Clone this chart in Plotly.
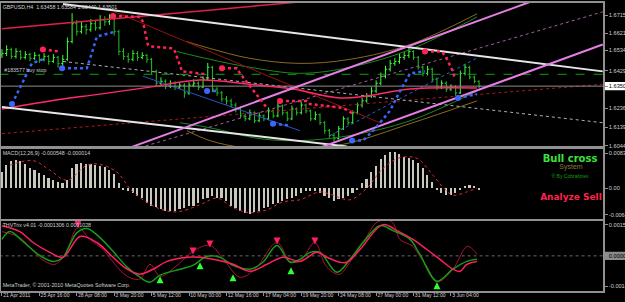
import plotly.graph_objects as go
from plotly.subplots import make_subplots

# ---------------- data ----------------
# x axis = H4 bar index; one drawn bar per 2 H4 bars
bar_x = list(range(0, 206, 2))
opens = [1.6510,1.6518,1.6538,1.6503,1.6528,1.6498,1.6513,1.6493,1.6508,1.6488,
 1.6503,1.6477,1.6498,1.6467,1.6488,1.6579,1.6671,1.6630,1.6655,1.6640,
 1.6671,1.6650,1.6691,1.6681,1.6701,1.6630,1.6528,1.6503,1.6488,1.6518,
 1.6498,1.6508,1.6488,1.6426,1.6365,1.6375,1.6350,1.6365,1.6345,1.6355,
 1.6315,1.6355,1.6365,1.6345,1.6386,1.6447,1.6335,1.6315,1.6284,1.6274,
 1.6253,1.6233,1.6197,1.6182,1.6213,1.6172,1.6197,1.6182,1.6223,1.6197,
 1.6248,1.6213,1.6182,1.6233,1.6213,1.6253,1.6223,1.6182,1.6203,1.6162,
 1.6121,1.6096,1.6080,1.6131,1.6182,1.6162,1.6213,1.6253,1.6274,1.6299,
 1.6325,1.6365,1.6401,1.6437,1.6467,1.6477,1.6498,1.6508,1.6528,1.6498,
 1.6447,1.6416,1.6437,1.6386,1.6345,1.6365,1.6335,1.6345,1.6315,1.6416,
 1.6447,1.6396,1.6375]
closes = [1.6518,1.6538,1.6503,1.6528,1.6498,1.6513,1.6493,1.6508,1.6488,1.6503,
 1.6477,1.6498,1.6467,1.6488,1.6579,1.6671,1.6630,1.6655,1.6640,1.6671,
 1.6650,1.6691,1.6681,1.6701,1.6630,1.6528,1.6503,1.6488,1.6518,1.6498,
 1.6508,1.6488,1.6426,1.6365,1.6375,1.6350,1.6365,1.6345,1.6355,1.6315,
 1.6355,1.6365,1.6345,1.6386,1.6447,1.6335,1.6315,1.6284,1.6274,1.6253,
 1.6233,1.6197,1.6182,1.6213,1.6172,1.6197,1.6182,1.6223,1.6197,1.6248,
 1.6213,1.6182,1.6233,1.6213,1.6253,1.6223,1.6182,1.6203,1.6162,1.6121,
 1.6096,1.6080,1.6131,1.6182,1.6162,1.6213,1.6253,1.6274,1.6299,1.6325,
 1.6365,1.6401,1.6437,1.6467,1.6477,1.6498,1.6508,1.6528,1.6498,1.6447,
 1.6416,1.6437,1.6386,1.6345,1.6365,1.6335,1.6345,1.6315,1.6416,1.6447,
 1.6396,1.6375,1.6350]
highs = [1.6540,1.6560,1.6548,1.6545,1.6535,1.6530,1.6522,1.6525,1.6515,1.6520,
 1.6510,1.6515,1.6505,1.6510,1.6600,1.6725,1.6690,1.6680,1.6670,1.6695,
 1.6685,1.6715,1.6710,1.6720,1.6705,1.6640,1.6545,1.6520,1.6535,1.6530,
 1.6525,1.6515,1.6495,1.6435,1.6395,1.6385,1.6380,1.6375,1.6370,1.6365,
 1.6370,1.6385,1.6375,1.6400,1.6470,1.6455,1.6345,1.6325,1.6300,1.6285,
 1.6265,1.6245,1.6210,1.6230,1.6220,1.6215,1.6205,1.6240,1.6230,1.6265,
 1.6255,1.6220,1.6250,1.6240,1.6270,1.6260,1.6230,1.6220,1.6210,1.6170,
 1.6130,1.6110,1.6145,1.6195,1.6190,1.6225,1.6265,1.6290,1.6315,1.6345,
 1.6380,1.6420,1.6455,1.6485,1.6495,1.6515,1.6525,1.6545,1.6535,1.6505,
 1.6455,1.6455,1.6445,1.6395,1.6380,1.6375,1.6360,1.6355,1.6430,1.6465,
 1.6455,1.6405,1.6380]
lows = [1.6495,1.6505,1.6490,1.6492,1.6485,1.6488,1.6478,1.6485,1.6470,1.6478,
 1.6460,1.6470,1.6445,1.6455,1.6480,1.6570,1.6610,1.6620,1.6615,1.6630,
 1.6635,1.6640,1.6660,1.6665,1.6610,1.6510,1.6485,1.6470,1.6478,1.6480,
 1.6488,1.6470,1.6410,1.6350,1.6350,1.6335,1.6340,1.6330,1.6335,1.6290,
 1.6305,1.6345,1.6330,1.6340,1.6380,1.6320,1.6300,1.6270,1.6255,1.6240,
 1.6215,1.6185,1.6170,1.6175,1.6160,1.6165,1.6170,1.6175,1.6185,1.6190,
 1.6200,1.6170,1.6175,1.6200,1.6205,1.6210,1.6170,1.6175,1.6150,1.6105,
 1.6085,1.6065,1.6075,1.6125,1.6150,1.6155,1.6205,1.6240,1.6265,1.6290,
 1.6315,1.6355,1.6390,1.6425,1.6455,1.6465,1.6485,1.6495,1.6485,1.6435,
 1.6400,1.6405,1.6370,1.6330,1.6335,1.6320,1.6325,1.6300,1.6310,1.6405,
 1.6385,1.6365,1.6340]

# MACD histogram (same x as bars) and signal line
macd_hist = [0.0038,0.0055,0.0064,0.0066,0.0064,0.0057,0.0047,0.0043,0.0036,0.0031,
 0.0024,0.0019,0.0014,0.0012,0.0019,0.0047,0.0057,0.0059,0.0057,0.0057,
 0.0055,0.0052,0.0050,0.0043,0.0033,0.0012,-0.0005,-0.0009,-0.0014,-0.0021,
 -0.0026,-0.0036,-0.0043,-0.0047,-0.0052,-0.0057,-0.0057,-0.0055,-0.0052,-0.0050,
 -0.0045,-0.0043,-0.0036,-0.0028,-0.0024,-0.0021,-0.0024,-0.0026,-0.0033,-0.0043,
 -0.0050,-0.0057,-0.0062,-0.0064,-0.0059,-0.0055,-0.0050,-0.0047,-0.0040,-0.0036,
 -0.0031,-0.0028,-0.0024,-0.0019,-0.0012,-0.0009,-0.0009,-0.0007,-0.0012,-0.0019,
 -0.0026,-0.0033,-0.0028,-0.0024,-0.0019,-0.0012,-0.0005,0.0012,0.0021,0.0038,
 0.0052,0.0069,0.0078,0.0085,0.0085,0.0081,0.0073,0.0071,0.0066,0.0059,
 0.0047,0.0031,0.0014,-0.0005,-0.0014,-0.0017,-0.0017,-0.0014,-0.0005,0.0002,
 0.0007,0.0005,-0.0005]
sig_x = [3.4,13.3,20.5,27.8,36.3,41.9,49.2,56,66.3,74.8,84.7,91.9,98.8,106,113.3,120.2,
 127.4,136,141.5,148.8,156.1,162.9,170.2,177.5,184.3,188.6,192.9,198.8,203.1]
sig_y = [0.0055,0.0066,0.0043,0.0019,0.0055,0.0057,0.0038,-0.0009,-0.0047,-0.0057,-0.0040,
 -0.0024,-0.0047,-0.0059,-0.0052,-0.0033,-0.0028,-0.0009,-0.0017,-0.0028,0.0,0.0047,
 0.0073,0.0071,0.0031,0.0002,-0.0017,-0.0009,0.0]

# THV Trix lines
trix_g_x = [0,3.4,9.0,16.2,21.8,26.1,29.1,32.1,36.3,41.9,47.5,53.5,59.0,63.3,67.6,76.1,81.7,
 87.7,93.2,98.8,106.0,111.6,117.6,123.2,127.4,131.7,136.0,143.2,148.8,154.4,161.6,167.2,
 174.5,178.7,186.0,192.8,198.8,203.1]
trix_g_y = [0.00080,0.00118,0.00070,0.00002,-0.00027,-0.00007,0.00055,0.00113,0.00133,0.00089,
 0.00022,-0.00055,-0.00104,-0.00128,-0.00094,-0.00065,-0.00046,-0.00002,-0.00007,-0.00046,
 -0.00065,-0.00031,0.00051,-0.00031,-0.00017,0.00017,0.00017,-0.00080,-0.00017,0.00065,
 0.00147,0.00123,0.00080,0.00007,-0.00123,-0.00065,-0.00027,-0.00017]
trix_r_x = [0,7.7,13.3,20.5,26.1,33.4,40.6,47.5,53.5,59.0,64.6,70.6,79.1,84.7,90.2,98.8,106.0,
 113.3,120.2,127.4,134.7,139.0,144.5,147.5,153.1,162.9,168.9,175.7,181.7,187.3,192.8,195.9,
 198.8,203.1]
trix_r_y = [0.00147,0.00118,0.00065,0.00017,-0.00007,0.00094,0.00065,-0.00007,-0.00065,-0.00089,
 -0.00065,-0.00027,-0.00007,-0.00007,-0.00017,-0.00041,-0.00075,-0.00041,-0.00007,-0.00027,
 0.00017,-0.00007,-0.00031,-0.00031,0.00031,0.00152,0.00123,0.00080,0.00031,-0.00017,
 -0.00065,-0.00075,-0.00041,-0.00027]
trix_d_x = [0,7.7,12.8,18.4,22.7,27.0,32.5,37.6,43.2,48.3,53.5,59.0,63.3,67.6,74.0,81.7,88.9,
 95.4,101.8,108.2,117.6,123.2,127.4,133.8,138.1,141.5,144.5,148.8,155.2,160.7,166.7,170.2,
 175.7,178.7,181.7,186.0,192.8,198.8,201.4,203.1]
trix_d_y = [0.00118,0.00089,0.00031,-0.00027,-0.00041,0.00007,0.00137,0.00080,0.00031,-0.00041,
 -0.00099,-0.00113,-0.00041,-0.00099,-0.00055,0.00022,0.00051,-0.00027,-0.00104,-0.00065,
 0.00065,-0.00027,-0.00027,0.00065,-0.00041,-0.00080,-0.00089,-0.00031,0.00080,0.00166,
 0.00166,0.00080,0.00046,-0.00002,-0.00051,-0.00128,-0.00065,0.00046,0.00031,0.00007]
up_arrow_x = [67.6,84.7,98.8,123.6,186.0]
up_arrow_y = [-0.00099,-0.00031,-0.00089,-0.00055,-0.00128]
dn_arrow_x = [32.5,81.7,88.9,117.6,133.8]
dn_arrow_y = [0.00137,0.00007,0.00041,0.00055,0.00055]

# overlays on price panel
white_up_x, white_up_y = [26.1, 256.9], [1.6772, 1.6426]
white_lo_x, white_lo_y = [0, 147.5], [1.6243, 1.6040]
white_mid_x, white_mid_y = [26.1, 256.9], [1.6477, 1.6162]
pink_up_x, pink_up_y = [54.7, 225.8], [1.6034, 1.6783]
pink_lo_x, pink_lo_y = [136.0, 256.9], [1.6034, 1.6564]
pink_dot_x, pink_dot_y = [59.0, 256.9], [1.6034, 1.6732]
red_thin_x, red_thin_y = [0, 127.4], [1.6645, 1.6783]
darkred_x, darkred_y = [48.3, 161.6], [1.6732, 1.6162]
blue_dn_x, blue_dn_y = [60.3, 127.4], [1.6401, 1.6121]
blue_upl_x, blue_upl_y = [140.3, 204.4], [1.6096, 1.6503]
reddot_x, reddot_y = [0, 256.9], [1.6106, 1.6360]
ma_x = [0,20.5,41.9,63.3,84.7,106,124.4,144.5,156,174.5,203.1]
ma_y = [1.6233,1.6274,1.6309,1.6345,1.6381,1.6360,1.6335,1.6289,1.6299,1.6335,1.6340]
brown_up_x = [79.1,88.9,106,127.4,148.8,174.5,203.1]
brown_up_y = [1.6579,1.6544,1.6493,1.6467,1.6488,1.6564,1.6722]
brown_lo_x = [79.1,88.9,103.1,125.3,147.5,174.5,203.1]
brown_lo_y = [1.6121,1.6070,1.6034,1.6019,1.6055,1.6157,1.6274]
green_up_x = [74.8,88.9,106,127.4,148.8,174.5,203.1]
green_up_y = [1.6528,1.6488,1.6447,1.6416,1.6447,1.6538,1.6706]
green_lo_x = [76.1,88.9,110.3,127.4,148.8,174.5,203.1]
green_lo_y = [1.6162,1.6136,1.6080,1.6070,1.6096,1.6172,1.6325]
buy_stop_level = 1.6411
bid = 1.63501

red_trail = [
    ([17.5, 24.8], [1.6538, 1.6528]),
    ([47.5, 59.0, 60.3, 62.4, 63.3, 73.1, 74.0, 77.0, 87.7],
     [1.6711, 1.6706, 1.6681, 1.6564, 1.6554, 1.6544, 1.6528, 1.6426, 1.6411]),
    ([94.1, 100.5, 101.8, 106.0, 110.3, 113.3], [1.6442, 1.6442, 1.6416, 1.6350, 1.6284, 1.6238]),
    ([118.9, 130.4, 131.7, 145.8, 150.1], [1.6274, 1.6274, 1.6258, 1.6238, 1.6208]),
    ([180.9, 188.2, 190.3, 192.4, 193.7], [1.6528, 1.6528, 1.6488, 1.6437, 1.6391]),
]
blue_trail = [
    ([4.3, 8.6, 12.8, 17.5], [1.6258, 1.6360, 1.6467, 1.6488]),
    ([25.7, 36.3, 37.6, 40.6, 48.3], [1.6442, 1.6442, 1.6488, 1.6605, 1.6630]),
    ([87.7, 91.9], [1.6325, 1.6325]),
    ([115.9, 123.2], [1.6157, 1.6147]),
    ([149.7, 154.4, 159.5, 165.9, 170.2, 173.2, 174.5, 180.9],
     [1.6070, 1.6070, 1.6131, 1.6223, 1.6325, 1.6391, 1.6416, 1.6426]),
    ([195.0, 203.1], [1.6289, 1.6309]),
]

price_ticks = [1.67150, 1.66215, 1.65340, 1.64290, 1.62365, 1.61390, 1.60440]
macd_ticks = [0.00836, 0.0, -0.00640]
macd_tick_text = ["0.00836", "0.00", "-0.00640"]
trix_ticks = [0.00152, 0.0, -0.00149]
trix_tick_text = ["0.00152", "<span style='color:black'>0.00000</span>", "-0.00149"]
time_tick_x = [0, 16, 32, 48, 64, 80, 96, 112, 128, 144, 160, 176, 192]
time_tick_text = ["21 Apr 2011", "25 Apr 16:00", "28 Apr 08:00", "2 May 20:00", "5 May 12:00",
                  "10 May 00:00", "12 May 16:00", "17 May 04:00", "19 May 20:00", "24 May 08:00",
                  "27 May 00:00", "31 May 12:00", "3 Jun 04:00"]

# ---------------- figure ----------------
FONT = "Liberation Sans"
SMALL = 5.3
fig = make_subplots(rows=3, cols=1, shared_xaxes=True)

def line(xs, ys, color, width=1, dash="solid", row=1, shape="linear"):
    fig.add_trace(go.Scatter(x=xs, y=ys, mode="lines", line=dict(color=color, width=width, dash=dash, shape=shape),
                             hoverinfo="skip", showlegend=False), row=row, col=1)

def text(x, y, s, row, color="#d0d0d0", size=SMALL, pos="middle right", family=FONT):
    fig.add_trace(go.Scatter(x=[x], y=[y], mode="text", text=[s], textposition=pos,
                             textfont=dict(family=family, size=size, color=color), cliponaxis=False,
                             hoverinfo="skip", showlegend=False), row=row, col=1)

# background overlays
line(brown_up_x, brown_up_y, "#8a6a1c", 1, shape="spline")
line(brown_lo_x, brown_lo_y, "#8a6a1c", 1, shape="spline")
line(green_up_x, green_up_y, "#1c8a1c", 1, shape="spline")
line(green_lo_x, green_lo_y, "#1c8a1c", 1, shape="spline")
line(reddot_x, reddot_y, "#b01818", 1, "dot")
line(pink_dot_x, pink_dot_y, "#a060a0", 1, "dot")
line(white_mid_x, white_mid_y, "#b0b0b0", 1, "dot")
line(blue_dn_x, blue_dn_y, "#2a52c8", 1)
line(blue_upl_x, blue_upl_y, "#3060d0", 1, "dot")
line(darkred_x, darkred_y, "#9a1010", 1)
line(red_thin_x, red_thin_y, "#e0204a", 1.5)
line([-1, 258], [buy_stop_level, buy_stop_level], "#10a010", 1, "dash")
line([-1, 258], [bid, bid], "#8c8c8c", 1)

fig.add_trace(go.Ohlc(x=bar_x, open=opens, high=highs, low=lows, close=closes,
                      increasing=dict(line=dict(color="#3cff3c", width=1)),
                      decreasing=dict(line=dict(color="#22c022", width=1)),
                      tickwidth=0.35, hoverinfo="skip", showlegend=False), row=1, col=1)

line(ma_x, ma_y, "#ff2a6a", 1.5, shape="spline")
line(white_up_x, white_up_y, "#e6e6e6", 2)
line(white_lo_x, white_lo_y, "#e6e6e6", 2)
line(pink_up_x, pink_up_y, "#e67ee6", 2)
line(pink_lo_x, pink_lo_y, "#e67ee6", 2)

for xs, ys in red_trail:
    line(xs, ys, "#ff2255", 2.5, "dot")
    fig.add_trace(go.Scatter(x=xs[:1], y=ys[:1], mode="markers", marker=dict(color="#ff2255", size=6),
                             hoverinfo="skip", showlegend=False), row=1, col=1)
for xs, ys in blue_trail:
    line(xs, ys, "#3a66ff", 2.5, "dot")
    fig.add_trace(go.Scatter(x=xs[:1], y=ys[:1], mode="markers", marker=dict(color="#3a66ff", size=6),
                             hoverinfo="skip", showlegend=False), row=1, col=1)

# MACD
fig.add_trace(go.Bar(x=bar_x, y=macd_hist, width=0.7, marker=dict(color="#c8c8bc", line=dict(width=0)),
                     hoverinfo="skip", showlegend=False), row=2, col=1)
line(sig_x, sig_y, "#e02838", 1, "dot", row=2, shape="spline")

# Trix
line([-1, 258], [0, 0], "#6a6a6a", 1, "dot", row=3)
line(trix_d_x, trix_d_y, "#b01030", 1, row=3, shape="spline")
line(trix_g_x, trix_g_y, "#12a012", 1.5, row=3, shape="spline")
line(trix_r_x, trix_r_y, "#ff2060", 1.5, row=3, shape="spline")
fig.add_trace(go.Scatter(x=up_arrow_x, y=up_arrow_y, mode="markers",
                         marker=dict(symbol="arrow-up", color="#30ff30", size=7),
                         hoverinfo="skip", showlegend=False), row=3, col=1)
fig.add_trace(go.Scatter(x=dn_arrow_x, y=dn_arrow_y, mode="markers",
                         marker=dict(symbol="arrow-down", color="#ff2060", size=7),
                         hoverinfo="skip", showlegend=False), row=3, col=1)

# texts (as text traces in data coordinates)
text(0.3, 1.6752, "GBPUSD,H4  1.63458 1.63584 1.63440 1.63501", 1)
text(1.0, 1.6427, "#183577 buy stop", 1, color="#c8c8c8")
text(0.3, 0.0083, "MACD(12,26,9) -0.000548 -0.000014", 2)
text(0.3, 0.00145, "THVTrix v4.01 -0.0001306 0.0001028", 3)
text(0.3, -0.00145, "MetaTrader, © 2001-2010 MetaQuotes Software Corp.", 3)
text(242.9, 0.0069, "<b>Bull cross</b>", 2, color="#3ee03e", size=10, pos="middle center", family="DejaVu Sans")
text(243.3, 0.0050, "System", 2, color="#8a7a3a", size=7, pos="middle center")
text(242.9, 0.0028, "® By Cobraforex", 2, color="#10a010", size=5, pos="middle center")
text(243.3, -0.0024, "<b>Analyze Sell</b>", 2, color="#ff2050", size=9, pos="middle center", family="DejaVu Sans")

axis_common = dict(showgrid=False, zeroline=False, showline=True, mirror=True,
                   linecolor="#909090", linewidth=1.5)
fig.update_layout(
    width=625, height=302, margin=dict(l=1, r=22, t=1, b=11),
    paper_bgcolor="black", plot_bgcolor="black", bargap=0,
    font=dict(family=FONT, size=SMALL, color="#d0d0d0"),
    shapes=[
        dict(type="rect", xref="paper", yref="y", x0=1.003, x1=1.05, y0=bid - 0.0021, y1=bid + 0.0021,
             fillcolor="white", line=dict(width=0), layer="below"),
        dict(type="rect", xref="paper", yref="y3", x0=1.003, x1=1.05, y0=-0.0002, y1=0.0002,
             fillcolor="#8a8a8a", line=dict(width=0), layer="below"),
    ],
)
for i, dom in zip([1, 2, 3], [[0.5017, 1.0], [0.2509, 0.4948], [0.0, 0.244]]):
    fig.update_xaxes(row=i, col=1, range=[-0.4, 257], domain=[0, 1], rangeslider=dict(visible=False),
                     **axis_common)
    fig.update_yaxes(row=i, col=1, domain=dom, side="right", ticks="outside", ticklen=3,
                     tickcolor="#909090", tickfont=dict(size=5.6, color="#d0d0d0"), automargin=False,
                     **axis_common)
fig.update_xaxes(row=1, col=1, showticklabels=False, ticks="")
fig.update_xaxes(row=2, col=1, showticklabels=False, ticks="")
fig.update_xaxes(row=3, col=1, tickvals=time_tick_x, ticktext=time_tick_text, ticks="outside", ticklen=3,
                 tickcolor="#909090", ticklabelposition="outside right", automargin=False, tickangle=0,
                 ticklabelstandoff=-2, tickfont=dict(size=5.1, color="#d0d0d0"))
fig.update_yaxes(row=1, col=1, range=[1.60396, 1.67776], tickvals=price_ticks + [bid],
                 ticktext=[f"{v:.5f}" for v in price_ticks] + ["<span style='color:black'>1.63501</span>"])
fig.update_yaxes(row=2, col=1, range=[-0.00735, 0.0095], tickvals=macd_ticks, ticktext=macd_tick_text)
fig.update_yaxes(row=3, col=1, range=[-0.00171, 0.00171], tickvals=trix_ticks, ticktext=trix_tick_text)

fig.write_html("out.html")
